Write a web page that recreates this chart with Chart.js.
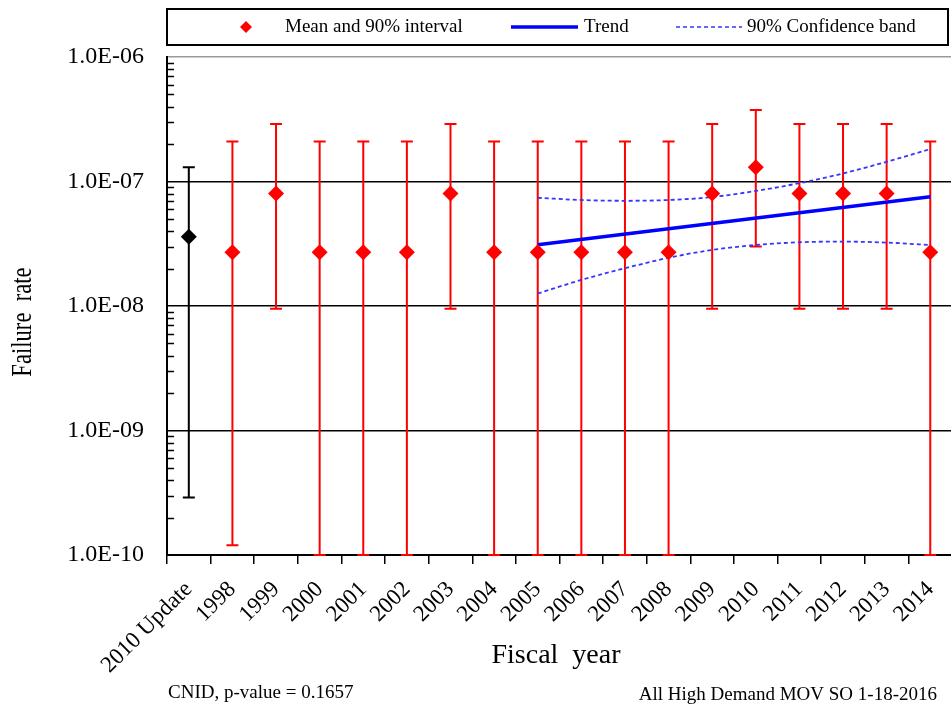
<!DOCTYPE html>
<html>
<head>
<meta charset="utf-8">
<title>Failure rate by fiscal year</title>
<script src="https://cdn.jsdelivr.net/npm/chart.js@4.4.1/dist/chart.umd.min.js"></script>
<style>
  html, body { margin: 0; padding: 0; background: #fff; overflow: hidden; }
</style>
</head>
<body>
<canvas id="rateChart" width="962" height="715"></canvas>
<script>
/* Data */
const categories = ["2010 Update", "1998", "1999", "2000", "2001", "2002", "2003", "2004", "2005",
  "2006", "2007", "2008", "2009", "2010", "2011", "2012", "2013", "2014"];
const meanValues = [3.6e-8, 2.7e-8, 8.0e-8, 2.7e-8, 2.7e-8, 2.7e-8, 8.0e-8, 2.7e-8, 2.7e-8,
  2.7e-8, 2.7e-8, 2.7e-8, 8.0e-8, 1.3e-7, 8.0e-8, 8.0e-8, 8.0e-8, 2.7e-8];
const lowerValues = [2.9e-10, 1.2e-10, 9.5e-9, 1.0e-10, 1.0e-10, 1.0e-10, 9.5e-9, 1.0e-10, 1.0e-10,
  1.0e-10, 1.0e-10, 1.0e-10, 9.5e-9, 3.0e-8, 9.5e-9, 9.5e-9, 9.5e-9, 1.0e-10];
const upperValues = [1.3e-7, 2.1e-7, 2.9e-7, 2.1e-7, 2.1e-7, 2.1e-7, 2.9e-7, 2.1e-7, 2.1e-7,
  2.1e-7, 2.1e-7, 2.1e-7, 2.9e-7, 3.75e-7, 2.9e-7, 2.9e-7, 2.9e-7, 2.1e-7];
// trend is a straight line on the log axis, only its ends are given
const trendValues = [null, null, null, null, null, null, null, null, 3.1e-8,
  null, null, null, null, null, null, null, null, 7.55e-8];
const bandUpper = [null, null, null, null, null, null, null, null, 7.4e-8,
  7.1e-8, 7.0e-8, 7.1e-8, 7.5e-8, 8.4e-8, 9.7e-8, 1.16e-7, 1.44e-7, 1.82e-7];
const bandLower = [null, null, null, null, null, null, null, null, 1.26e-8,
  1.62e-8, 2.01e-8, 2.44e-8, 2.82e-8, 3.09e-8, 3.25e-8, 3.29e-8, 3.23e-8, 3.09e-8];
const yTickValues = [1e-10, 1e-9, 1e-8, 1e-7, 1e-6];
const yTickLabels = ["1.0E-10", "1.0E-09", "1.0E-08", "1.0E-07", "1.0E-06"];
/* Data */

const SERIF = "'Liberation Serif', 'Times New Roman', serif";
const RED = "#ff0000";
const BLUE = "#0000ff";
const BAND = "#3535ff";
const pointColors = categories.map((c, i) => (i === 0 ? "#000000" : RED));

function majorIndex(v) {
  return yTickValues.findIndex((t) => Math.abs(v - t) / t < 1e-6);
}

// vertical whiskers with caps, drawn under the diamonds
const errorBars = {
  id: "errorBars",
  beforeDatasetsDraw(chart) {
    const { ctx, scales: { x, y } } = chart;
    ctx.save();
    ctx.lineWidth = 2;
    categories.forEach((c, i) => {
      const px = x.getPixelForValue(i);
      const lo = y.getPixelForValue(lowerValues[i]);
      const hi = y.getPixelForValue(upperValues[i]);
      ctx.strokeStyle = pointColors[i];
      ctx.beginPath();
      ctx.moveTo(px, lo);
      ctx.lineTo(px, hi);
      ctx.moveTo(px - 6, lo);
      ctx.lineTo(px + 6, lo);
      ctx.moveTo(px - 6, hi);
      ctx.lineTo(px + 6, hi);
      ctx.stroke();
    });
    ctx.restore();
  },
};

// legend box, inner minor ticks, axis titles and footer notes
const decorations = {
  id: "decorations",
  afterDraw(chart) {
    const { ctx, chartArea, scales: { y } } = chart;
    ctx.save();

    // minor ticks on the inside of the value axis
    ctx.strokeStyle = "#000";
    ctx.lineWidth = 1.5;
    y.ticks.forEach((t) => {
      if (majorIndex(t.value) >= 0) return;
      const py = Math.round(y.getPixelForValue(t.value)) + 0.5;
      ctx.beginPath();
      ctx.moveTo(chartArea.left, py);
      ctx.lineTo(chartArea.left + 7, py);
      ctx.stroke();
    });

    // legend
    ctx.lineWidth = 2;
    ctx.strokeRect(167, 9, 781, 36);
    const ly = 27;
    ctx.fillStyle = RED;
    ctx.beginPath();
    ctx.moveTo(246, ly - 6);
    ctx.lineTo(252, ly);
    ctx.lineTo(246, ly + 6);
    ctx.lineTo(240, ly);
    ctx.closePath();
    ctx.fill();

    ctx.strokeStyle = BLUE;
    ctx.lineWidth = 3.5;
    ctx.beginPath();
    ctx.moveTo(511, ly);
    ctx.lineTo(578, ly);
    ctx.stroke();

    ctx.strokeStyle = BAND;
    ctx.lineWidth = 1.5;
    ctx.setLineDash([4, 3]);
    ctx.beginPath();
    ctx.moveTo(676, ly);
    ctx.lineTo(742, ly);
    ctx.stroke();
    ctx.setLineDash([]);

    ctx.fillStyle = "#000";
    ctx.font = "19px " + SERIF;
    ctx.textBaseline = "middle";
    ctx.textAlign = "left";
    ctx.fillText("Mean and 90% interval", 285, ly);
    ctx.fillText("Trend", 584, ly);
    ctx.fillText("90% Confidence band", 747, ly);

    // axis titles
    ctx.font = "28px " + SERIF;
    ctx.textAlign = "center";
    ctx.fillText("Fiscal  year", 556, 656);
    ctx.save();
    ctx.translate(23, 322);
    ctx.rotate(-Math.PI / 2);
    ctx.scale(0.78, 1); // narrow lettering along the vertical title
    ctx.font = "29px " + SERIF;
    ctx.fillText("Failure  rate", 0, 0);
    ctx.restore();

    // footer notes
    ctx.font = "19px " + SERIF;
    ctx.textAlign = "left";
    ctx.fillText("CNID, p-value = 0.1657", 168, 693);
    ctx.textAlign = "right";
    ctx.fillText("All High Demand MOV SO 1-18-2016", 937, 695);

    ctx.restore();
  },
};

const chart = new Chart(document.getElementById("rateChart"), {
  type: "line",
  data: {
    labels: categories,
    datasets: [
      {
        label: "Mean and 90% interval",
        data: meanValues,
        showLine: false,
        pointStyle: "rectRot",
        pointRadius: 8,
        pointBorderWidth: 0,
        pointBackgroundColor: pointColors,
        pointBorderColor: pointColors,
      },
      {
        label: "Trend",
        data: trendValues,
        spanGaps: true,
        borderColor: BLUE,
        borderWidth: 3.5,
        pointRadius: 0,
      },
      {
        label: "90% Confidence band",
        data: bandUpper,
        borderColor: BAND,
        borderWidth: 1.8,
        borderDash: [4, 3],
        cubicInterpolationMode: "monotone",
        pointRadius: 0,
      },
      {
        label: "90% Confidence band (lower)",
        data: bandLower,
        borderColor: BAND,
        borderWidth: 1.8,
        borderDash: [4, 3],
        cubicInterpolationMode: "monotone",
        pointRadius: 0,
      },
    ],
  },
  options: {
    responsive: false,
    animation: false,
    layout: { padding: { top: 57, left: 0, right: 0, bottom: 0 } },
    plugins: {
      legend: { display: false },
      tooltip: { enabled: false },
    },
    scales: {
      x: {
        type: "category",
        offset: true,
        afterFit: (s) => { s.height = 160; },
        grid: {
          offset: true,
          drawOnChartArea: false,
          drawTicks: true,
          tickLength: 9,
          color: "#000",
          lineWidth: 1.5,
        },
        border: { color: "#000", width: 2 },
        ticks: {
          autoSkip: false,
          minRotation: 45,
          maxRotation: 45,
          padding: 12,
          color: "#000",
          font: { family: SERIF, size: 23 },
        },
      },
      y: {
        type: "logarithmic",
        min: 1e-10,
        max: 1e-6,
        afterFit: (s) => { s.width = 167; },
        afterBuildTicks: (s) => {
          const ticks = [];
          yTickValues.forEach((d, i) => {
            if (i === yTickValues.length - 1) {
              ticks.push({ value: d, major: true });
              return;
            }
            for (let k = 1; k < 10; k++) ticks.push({ value: d * k, major: k === 1 });
          });
          s.ticks = ticks;
        },
        grid: {
          drawTicks: false,
          lineWidth: 1.5,
          color: (c) => {
            const idx = c.tick ? majorIndex(c.tick.value) : -1;
            if (idx < 0) return "rgba(0,0,0,0)";
            return idx === yTickValues.length - 1 ? "#9a9a9a" : "#000";
          },
        },
        border: { color: "#000", width: 2 },
        ticks: {
          autoSkip: false,
          padding: 23,
          color: "#000",
          font: { family: SERIF, size: 24 },
          callback: (v) => {
            const idx = majorIndex(v);
            return idx >= 0 ? yTickLabels[idx] : "";
          },
        },
      },
    },
  },
  plugins: [errorBars, decorations],
});
</script>
</body>
</html>
